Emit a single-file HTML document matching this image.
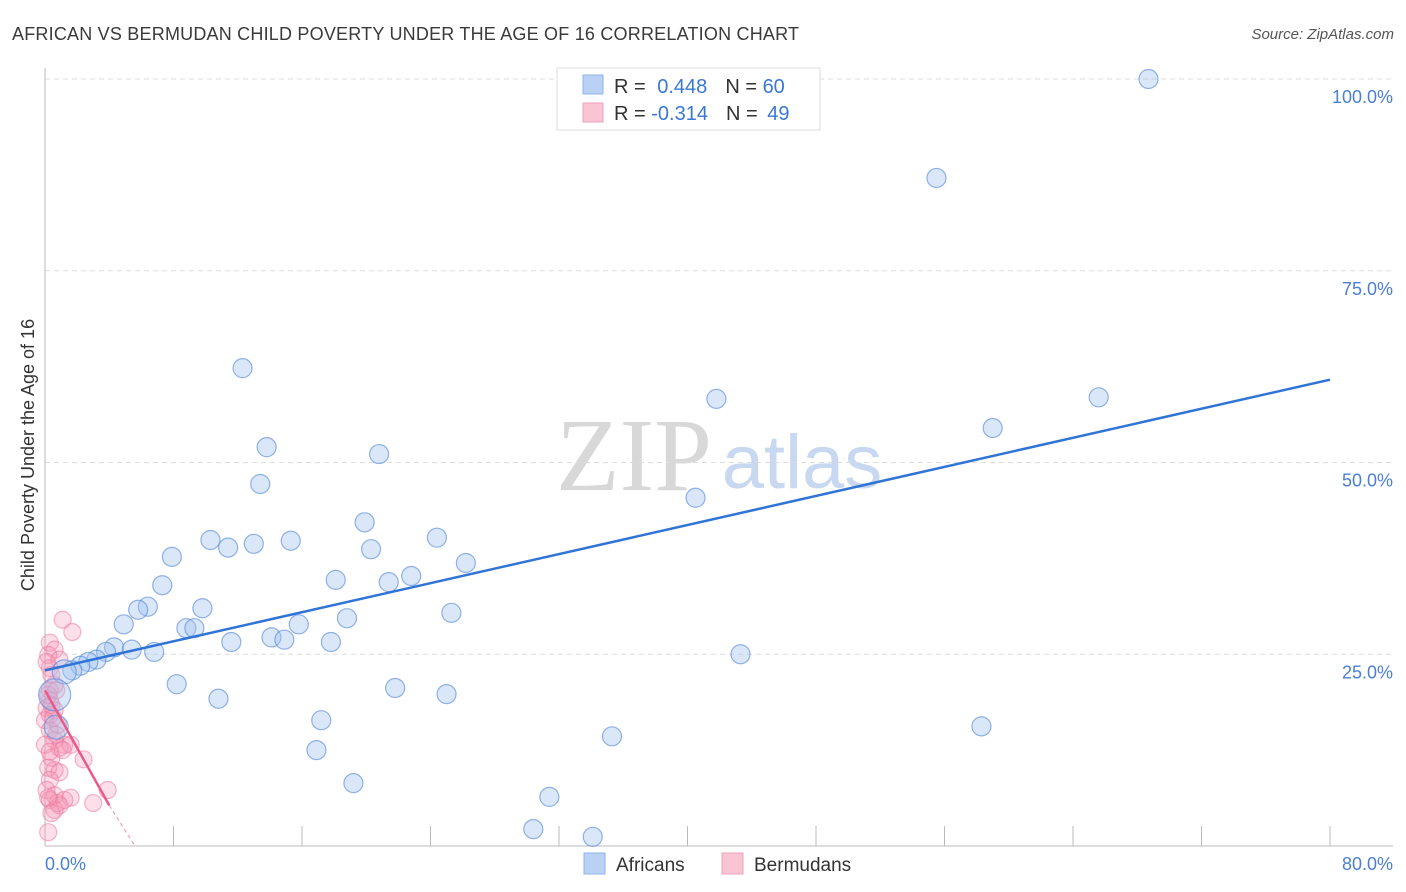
<!DOCTYPE html>
<html><head><meta charset="utf-8"><style>
body{margin:0;background:#fff;font-family:"Liberation Sans",sans-serif;}
svg{display:block}
</style></head><body>
<svg id="chart" width="1406" height="892" xmlns="http://www.w3.org/2000/svg">
<text x="12" y="40" font-size="18" fill="#3a3a3a" textLength="787">AFRICAN VS BERMUDAN CHILD POVERTY UNDER THE AGE OF 16 CORRELATION CHART</text>
<text x="1394" y="39" font-size="15" fill="#555" text-anchor="end" font-style="italic">Source: ZipAtlas.com</text>
<g>
<text x="634" y="490" font-size="104" fill="#d8d8d8" font-family="Liberation Serif,serif" text-anchor="middle">ZIP</text>
<text x="802" y="488" font-size="76" fill="#c8d8f0" text-anchor="middle">atlas</text>
</g>
<g id="grid"></g>
<g id="axes"></g>
<text transform="translate(34,455) rotate(-90)" font-size="18" fill="#333" text-anchor="middle">Child Poverty Under the Age of 16</text>
<g id="marks"></g>
<g>
<rect x="557" y="68" width="263" height="62" fill="#fff" stroke="#ddd"/>
<rect x="583" y="75" width="20" height="19" fill="#b9d1f5" stroke="#8fb3e8"/>
<rect x="583" y="103" width="20" height="19" fill="#f9c5d4" stroke="#eea0b8"/>
<text x="614" y="93" font-size="20" fill="#333">R = <tspan fill="#3a78d6" dx="6">0.448</tspan><tspan dx="18" fill="#333">N = </tspan><tspan fill="#3a78d6">60</tspan></text>
<text x="614" y="120" font-size="20" fill="#333">R = <tspan fill="#3a78d6">-0.314</tspan><tspan dx="18" fill="#333">N = </tspan><tspan fill="#3a78d6" dx="4">49</tspan></text>
</g>
<g>
<rect x="584" y="853" width="21" height="21" fill="#b9d1f5" stroke="#8fb3e8"/>
<text x="616" y="871" font-size="19" fill="#333">Africans</text>
<rect x="722" y="853" width="21" height="21" fill="#f9c5d4" stroke="#eea0b8"/>
<text x="754" y="871" font-size="19" fill="#333">Bermudans</text>
</g>
</svg>
<script>
const blueX=[68.7,55.5,12.3,41.8,65.6,59.0,13.8,20.8,13.4,40.5,19.9,10.3,11.4,13.0,15.3,24.4,20.3,7.9,26.2,22.8,18.1,21.4,7.3,6.4,5.8,9.8,25.3,18.8,4.9,15.8,8.8,9.3,14.1,14.9,11.6,17.8,4.3,6.8,5.4,3.8,3.2,2.7,2.2,1.7,1.2,43.3,8.2,21.8,25.0,10.8,0.6,17.2,58.3,35.3,16.9,19.2,31.4,30.4,34.1,0.7];
const blueY=[100.0,87.1,62.3,58.3,58.5,54.5,52.0,51.1,47.2,45.4,42.2,39.9,38.9,39.4,39.8,40.2,38.7,37.7,36.9,35.2,34.7,34.4,34.0,31.2,30.8,31.0,30.4,29.7,28.9,28.9,28.4,28.4,27.2,26.9,26.6,26.6,25.9,25.3,25.6,25.3,24.3,24.0,23.5,22.9,22.7,25.0,21.1,20.6,19.8,19.2,19.7,16.4,15.6,14.3,12.5,8.2,6.4,2.2,1.2,15.5];
const pinkX=[1.1,1.7,0.3,0.6,0.2,0.9,0.3,0.6,0.3,0.3,0.4,0.1,0.6,0.3,0.0,0.8,0.3,0.6,1.2,0.9,1.6,0.4,2.4,0.2,0.6,0.9,0.3,0.1,0.6,0.3,0.8,3.9,1.6,3.0,0.9,0.6,0.4,0.2,0.0,0.3,1.1,0.2,0.4,0.1,0.5,0.7,1.2,0.2,0.7];
const pinkY=[29.5,27.9,26.5,25.6,24.9,24.3,23.2,21.0,20.3,19.0,18.4,18.0,17.7,17.1,16.4,15.8,15.1,13.8,13.2,12.8,13.2,11.5,11.3,10.2,9.9,9.6,8.6,7.3,6.6,6.0,5.6,7.3,6.3,5.6,5.3,4.7,4.3,1.8,13.2,12.3,12.5,19.7,22.3,24.0,16.7,14.5,6.0,6.3,20.3];
const blueTrend=[0,22.9,80,60.8];
const pinkTrend=[0,20.3,4.0,5.3,5.6,0];
const yTicks=[25,50,75,100];
const yTickLabels=["25.0%","50.0%","75.0%","100.0%"];
const xTicks=[0,8,16,24,32,40,48,56,64,72,80];
const NS="http://www.w3.org/2000/svg";
const X=v=>45+v/80*1285;
const Y=v=>846-v/100*767;
function mk(tag,attrs,parent){const e=document.createElementNS(NS,tag);for(const k in attrs)e.setAttribute(k,attrs[k]);parent.appendChild(e);return e;}
const grid=document.getElementById('grid'),axes=document.getElementById('axes'),marks=document.getElementById('marks');
yTicks.forEach((t,i)=>{
 const l=mk('line',{x1:45,x2:1393,y1:Y(t),y2:Y(t),stroke:'#ddd','stroke-dasharray':'5,4'},grid);
 
 
 const tx=mk('text',{x:1393,y:Y(t)+24,'font-size':18,fill:'#4a7fd6','text-anchor':'end'},axes);
 tx.textContent=yTickLabels[i];
 
 
});
let a=mk('line',{x1:45,x2:45,y1:68,y2:846,stroke:'#bbb'},axes);


a=mk('line',{x1:45,x2:1393,y1:846,y2:846,stroke:'#bbb'},axes);


xTicks.forEach(t=>{
 const l=mk('line',{x1:X(t),x2:X(t),y1:826,y2:846,stroke:'#bbb'},axes);
 
 
});
let t0=mk('text',{x:45,y:870,'font-size':18,fill:'#4a7fd6'},axes);t0.textContent='0.0%';


let t1=mk('text',{x:1393,y:870,'font-size':18,fill:'#4a7fd6','text-anchor':'end'},axes);t1.textContent='80.0%';


pinkX.forEach((v,i)=>{
 const c=mk('circle',{cx:X(v),cy:Y(pinkY[i]),r:8.5,fill:'rgba(244,150,180,0.3)',stroke:'rgba(236,120,160,0.55)','stroke-width':1.2},marks);
 
 
});
blueX.forEach((v,i)=>{
 const big=(i===50)?16:(i===44?12:(i===59?12:9.5));
 const c=mk('circle',{cx:X(v),cy:Y(blueY[i]),r:big,fill:'rgba(160,195,240,0.4)',stroke:'rgba(90,140,220,0.65)','stroke-width':1.2},marks);
 
 
});
let bl=mk('line',{x1:X(blueTrend[0]),y1:Y(blueTrend[1]),x2:X(blueTrend[2]),y2:Y(blueTrend[3]),stroke:'#2f74d6','stroke-width':2.5},marks);


let pl=mk('line',{x1:X(pinkTrend[0]),y1:Y(pinkTrend[1]),x2:X(pinkTrend[2]),y2:Y(pinkTrend[3]),stroke:'#ea5a88','stroke-width':2.5},marks);


let pd=mk('line',{x1:X(pinkTrend[2]),y1:Y(pinkTrend[3]),x2:X(pinkTrend[4]),y2:Y(pinkTrend[5]),stroke:'#f0a0b8','stroke-width':1.2,'stroke-dasharray':'4,3'},marks);


</script>
</body></html>
